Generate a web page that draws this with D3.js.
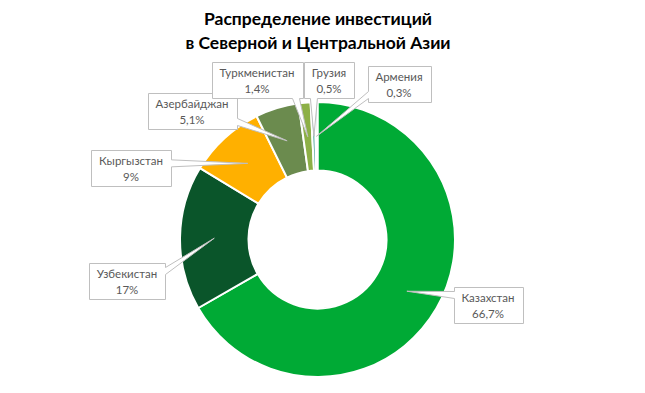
<!DOCTYPE html>
<html>
<head>
<meta charset="utf-8">
<script src="https://cdn.jsdelivr.net/npm/d3@7"></script>
<style>
	body { margin: 0; background: #fff; }
	text { font-family: Lato, "Open Sans", sans-serif; }
</style>
</head>
<body>
<svg id="chart" width="645" height="393"></svg>
<script>
// data
var countries = ["Казахстан", "Узбекистан", "Кыргызстан", "Азербайджан", "Туркменистан", "Грузия", "Армения"];
var shares = [66.7, 17, 9, 5.1, 1.4, 0.5, 0.3];
var shareLabels = ["66,7%", "17%", "9%", "5,1%", "1,4%", "0,5%", "0,3%"];
var titleLines = ["Распределение инвестиций", "в Северной и Центральной Азии"];

// styling / layout
var colors = ["#00aa35", "#0a552a", "#ffb000", "#6b8b4e", "#8db046", "#3d9e8e", "#8fd3c9"];
var labelCenters = [[488, 305], [127, 281], [131, 168], [192, 111], [257, 80], [329, 80], [399, 84]];

var W = 645, H = 393;
var cx = 317.5, cy = 239.5, rOuter = 137.5, rInner = 69;

var svg = d3.select("#chart");

// title
svg.append("text")
	.attr("x", 318)
	.attr("y", 25)
	.attr("text-anchor", "middle")
	.attr("font-size", 17.5)
	.attr("font-weight", "bold")
	.attr("fill", "#000")
	.selectAll("tspan")
	.data(titleLines)
	.enter()
		.append("tspan")
		.attr("x", 318)
		.attr("dy", function(d, i) { return i === 0 ? 0 : 24; })
		.text(function(d) { return d; });

var data = countries.map(function(c, i) {
	return { name: c, value: shares[i], label: shareLabels[i], color: colors[i], pos: labelCenters[i] };
});

var pie = d3.pie()
	.value(function(d) { return d.value; })
	.sort(null);
var arcs = pie(data);

var arc = d3.arc()
	.innerRadius(rInner)
	.outerRadius(rOuter);

var body = svg.append("g")
	.attr("transform", "translate(" + cx + "," + cy + ")");

body.selectAll("path")
	.data(arcs)
	.enter()
		.append("path")
		.attr("d", arc)
		.attr("fill", function(d) { return d.data.color; })
		.attr("stroke", "#fff")
		.attr("stroke-width", 2)
		.attr("stroke-linejoin", "round");

// callouts: box + pointer to slice centroid
function clamp(v, a, b) { return Math.max(a, Math.min(b, v)); }

function calloutPath(x0, y0, x1, y1, tx, ty) {
	var dx = tx - clamp(tx, x0, x1);
	var dy = ty - clamp(ty, y0, y1);
	var hw = 3.5, m = 4;
	var pts = [];
	if (Math.abs(dx) > Math.abs(dy)) {
		var by = clamp(ty, y0 + m + hw, y1 - m - hw);
		if (dx > 0) {
			pts = [[x0, y0], [x1, y0], [x1, by - hw], [tx, ty], [x1, by + hw], [x1, y1], [x0, y1]];
		} else {
			pts = [[x0, y0], [x1, y0], [x1, y1], [x0, y1], [x0, by + hw], [tx, ty], [x0, by - hw]];
		}
	} else {
		var bx = clamp(tx, x0 + m + hw, x1 - m - hw);
		if (dy > 0) {
			pts = [[x0, y0], [x1, y0], [x1, y1], [bx + hw, y1], [tx, ty], [bx - hw, y1], [x0, y1]];
		} else {
			pts = [[x0, y0], [bx - hw, y0], [tx, ty], [bx + hw, y0], [x1, y0], [x1, y1], [x0, y1]];
		}
	}
	return "M" + pts.map(function(p) { return p[0] + "," + p[1]; }).join("L") + "Z";
}

var labels = svg.append("g").attr("class", "labels");

arcs.forEach(function(a) {
	var d = a.data;
	var c = arc.centroid(a);
	var tx = cx + c[0], ty = cy + c[1];
	var g = labels.append("g");
	var path = g.append("path");
	var t1 = g.append("text")
		.attr("x", d.pos[0])
		.attr("y", d.pos[1] - 3)
		.attr("text-anchor", "middle")
		.attr("font-size", 11.5)
		.attr("fill", "#595959")
		.text(d.name);
	var t2 = g.append("text")
		.attr("x", d.pos[0])
		.attr("y", d.pos[1] + 13)
		.attr("text-anchor", "middle")
		.attr("font-size", 11.5)
		.attr("fill", "#595959")
		.text(d.label);
	var tw = Math.max(t1.node().getComputedTextLength(), t2.node().getComputedTextLength());
	var bw = Math.round(tw + 16), bh = 36;
	var x0 = Math.round(d.pos[0] - bw / 2) + 0.5, y0 = Math.round(d.pos[1] - bh / 2) + 0.5;
	path.attr("d", calloutPath(x0, y0, x0 + bw, y0 + bh, tx, ty))
		.attr("fill", "#fff")
		.attr("stroke", "#bfbfbf")
		.attr("stroke-width", 1)
		.attr("stroke-linejoin", "miter");
});
</script>
</body>
</html>
